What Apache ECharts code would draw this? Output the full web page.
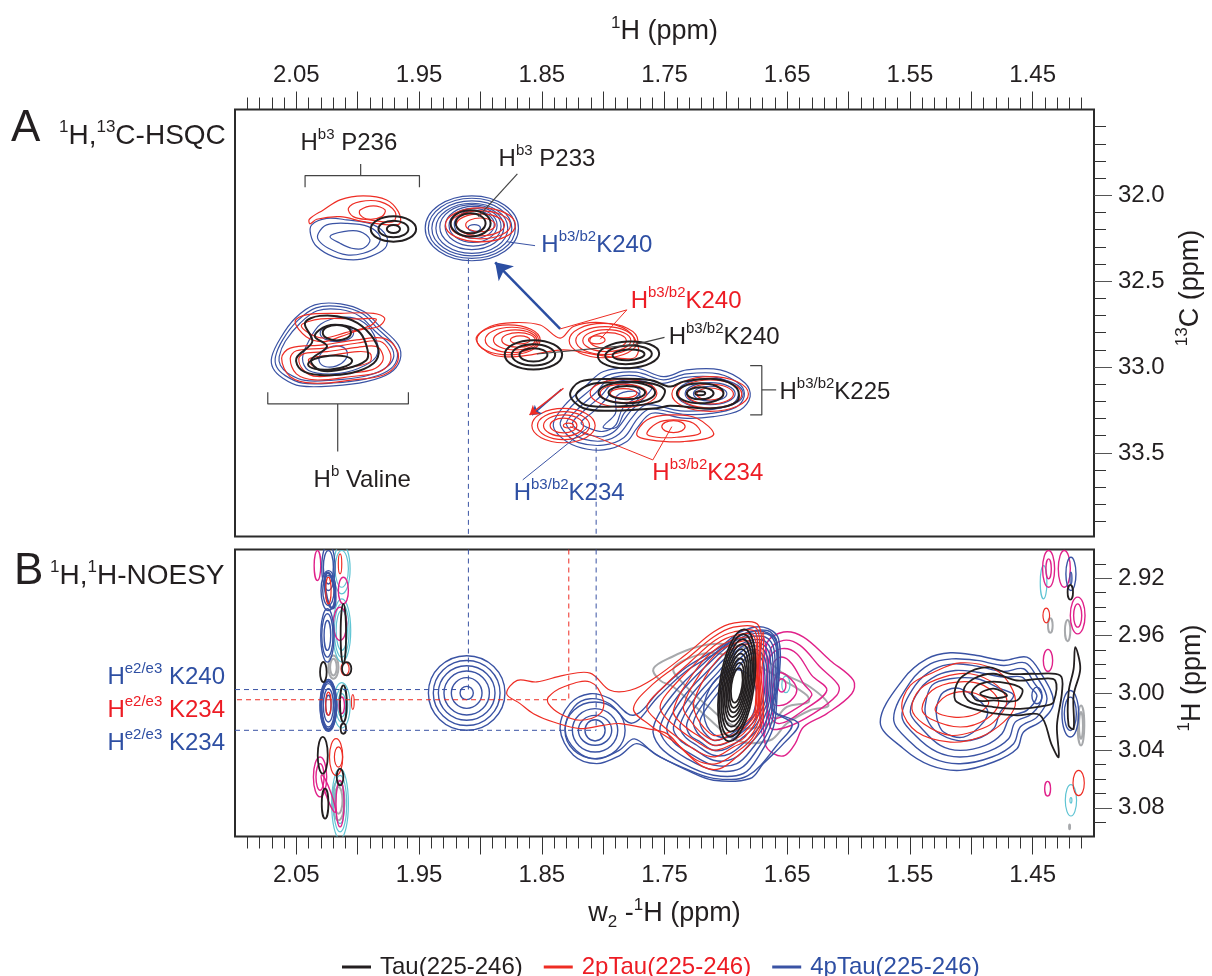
<!DOCTYPE html>
<html><head><meta charset="utf-8">
<style>html,body{margin:0;padding:0;background:#fff}#c{width:1212px;height:976px}</style>
<script src="https://cdn.jsdelivr.net/npm/echarts@6/dist/echarts.min.js"></script>
</head><body><div id="c"></div>
<script>
// ---- axis ticks ----
const xMajorTicks=[2.05,2.00,1.95,1.90,1.85,1.80,1.75,1.70,1.65,1.60,1.55,1.50,1.45];
const xLabelTicks=[2.05,1.95,1.85,1.75,1.65,1.55,1.45];
const xMinorTicks=[2.09,2.08,2.07,2.06,2.04,2.03,2.02,2.01,1.99,1.98,1.97,1.96,1.94,1.93,1.92,1.91,1.89,1.88,1.87,1.86,1.84,1.83,1.82,1.81,1.79,1.78,1.77,1.76,1.74,1.73,1.72,1.71,1.69,1.68,1.67,1.66,1.64,1.63,1.62,1.61,1.59,1.58,1.57,1.56,1.54,1.53,1.52,1.51,1.49,1.48,1.47,1.46,1.44,1.43,1.42,1.41];
const yAMajorTicks=[32.0,32.5,33.0,33.5];
const yAMinorTicks=[31.6,31.7,31.8,31.9,32.1,32.2,32.3,32.4,32.6,32.7,32.8,32.9,33.1,33.2,33.3,33.4,33.6,33.7,33.8,33.9];
const yBMajorTicks=[2.92,2.96,3.00,3.04,3.08];
const yBMinorTicks=[2.91,2.93,2.94,2.95,2.97,2.98,2.99,3.01,3.02,3.03,3.05,3.06,3.07,3.09];

// ---- HSQC (panel A). Peak rows: [1H ppm, 13C ppm, half width 1H, half width 13C, tilt deg] ----
const hsqcBluePeaks=[
[1.907,32.192,.038,.189,0],[1.907,32.192,.0355,.175,0],[1.907,32.192,.0326,.160,0],[1.907,32.192,.0293,.146,0],[1.907,32.185,.0261,.131,0],[1.906,32.18,.0228,.116,0],[1.906,32.175,.0196,.099,0],[1.905,32.17,.0163,.081,0],[1.905,32.19,.005,.02,0],
[2.017,32.803,.0136,.0485,0],[2.02,32.939,.012,.058,-20],
[1.7128,33.155,.027,.087,0],[1.7128,33.155,.0204,.064,0],[1.7128,33.155,.0136,.043,0]];
const hsqcBlueLoops=[
[[2.0375,32.172],[2.0253,32.134],[2.009,32.143],[1.9872,32.172],[1.9764,32.24],[1.9777,32.308],[1.99,32.357],[2.0036,32.376],[2.0198,32.357],[2.0334,32.298],[2.0383,32.23]],
[[2.032,32.221],[2.0253,32.172],[2.009,32.163],[1.9913,32.182],[1.9818,32.24],[1.9845,32.298],[1.9954,32.337],[2.009,32.347],[2.0239,32.308],[2.032,32.26]],
[[2.0226,32.24],[2.0117,32.211],[1.9981,32.211],[1.99,32.26],[1.9954,32.308],[2.0049,32.308],[2.0144,32.279]],
[[2.070,32.939],[2.063,32.832],[2.051,32.716],[2.035,32.638],[2.014,32.632],[1.995,32.677],[1.982,32.764],[1.967,32.871],[1.9655,32.959],[1.974,33.036],[1.993,33.085],[2.020,33.110],[2.047,33.110],[2.061,33.065],[2.069,33.007]],
[[2.067,32.939],[2.061,32.84],[2.049,32.73],[2.034,32.655],[2.014,32.648],[1.996,32.69],[1.984,32.775],[1.970,32.876],[1.968,32.955],[1.976,33.025],[1.994,33.07],[2.020,33.093],[2.045,33.094],[2.059,33.05],[2.066,33.0]],
[[2.064,32.939],[2.059,32.85],[2.047,32.745],[2.033,32.672],[2.014,32.665],[1.998,32.705],[1.986,32.79],[1.973,32.88],[1.971,32.95],[1.979,33.013],[1.995,33.055],[2.020,33.076],[2.043,33.078],[2.057,33.036],[2.063,32.99]],
[[2.045,32.95],[2.04,32.85],[2.03,32.75],[2.012,32.71],[1.995,32.74],[1.985,32.84],[1.985,32.94],[2.0,33.01],[2.02,33.04],[2.04,33.02]],
[[1.8405,33.327],[1.831,33.22],[1.8147,33.114],[1.7997,33.026],[1.7726,33.007],[1.7508,33.056],[1.7318,33.017],[1.7046,33.017],[1.6842,33.094],[1.6802,33.172],[1.6883,33.25],[1.7101,33.289],[1.7345,33.298],[1.7603,33.269],[1.7726,33.357],[1.7807,33.434],[1.7997,33.483],[1.8215,33.463],[1.8364,33.395]],
[[1.835,33.325],[1.826,33.23],[1.81,33.13],[1.797,33.05],[1.773,33.03],[1.751,33.075],[1.732,33.04],[1.706,33.04],[1.688,33.105],[1.685,33.17],[1.692,33.235],[1.712,33.27],[1.735,33.275],[1.762,33.245],[1.772,33.3],[1.783,33.41],[1.80,33.455],[1.82,33.44],[1.83,33.39]],
[[1.83,33.325],[1.82,33.24],[1.806,33.15],[1.795,33.07],[1.774,33.05],[1.752,33.095],[1.733,33.06],[1.708,33.06],[1.692,33.115],[1.69,33.17],[1.696,33.22],[1.714,33.25],[1.737,33.255],[1.765,33.22],[1.776,33.29],[1.787,33.39],[1.80,33.43],[1.816,33.42],[1.825,33.38]],
[[1.825,33.325],[1.815,33.25],[1.802,33.17],[1.792,33.095],[1.775,33.075],[1.76,33.11],[1.768,33.19],[1.778,33.26],[1.79,33.37],[1.80,33.405],[1.812,33.395],[1.82,33.37]],
[[1.818,33.325],[1.808,33.26],[1.798,33.19],[1.79,33.115],[1.778,33.10],[1.77,33.15],[1.784,33.24],[1.79,33.34],[1.80,33.375],[1.81,33.36]],
[[1.80,33.35],[1.79,33.27],[1.789,33.17],[1.775,33.14],[1.77,33.17],[1.783,33.27],[1.789,33.35]]];
const hsqcRedPeaks=[
[1.9,32.172,.0285,.099,0],[1.9,32.172,.0245,.081,0],[1.9,32.172,.0196,.064,0],[1.9,32.172,.012,.04,0],
[1.8771,32.842,.0258,.0873,0],[1.8744,32.842,.0217,.0738,0],[1.8717,32.842,.0177,.058,0],[1.869,32.842,.0136,.0427,0],[1.8676,32.842,.008,.023,0],
[1.7997,32.846,.028,.10,0],[1.7984,32.846,.0239,.0815,0],[1.797,32.846,.0196,.064,0],[1.796,32.846,.0149,.0466,0],[1.8052,32.842,.0068,.023,0],
[1.7834,33.153,.0272,.0815,0],[1.7834,33.153,.019,.054,0],[1.7834,33.153,.0109,.027,0],
[1.7128,33.157,.0312,.101,0],[1.7128,33.157,.0258,.0815,0],[1.7128,33.157,.019,.058,0],[1.7128,33.157,.0109,.035,0],
[1.8323,33.341,.0258,.10,0],[1.8323,33.341,.0212,.0815,0],[1.8323,33.341,.0163,.062,0],[1.8323,33.341,.0109,.043,0],[1.8283,33.341,.0041,.014,0],
[1.7427,33.347,.0095,.035,0]];
const hsqcRedLoops=[
[[2.0394,32.139],[2.028,32.085],[2.0144,32.026],[1.9954,32.003],[1.9764,32.027],[1.9669,32.095],[1.9655,32.163],[1.9737,32.172],[1.9954,32.153],[2.0144,32.124],[2.0334,32.139],[2.0389,32.166]],
[[2.0076,32.075],[1.998,32.037],[1.9818,32.037],[1.9696,32.095],[1.971,32.153],[1.99,32.143],[2.0036,32.124]],
[[1.998,32.085],[1.9872,32.061],[1.9777,32.085],[1.9804,32.124],[1.9913,32.139],[1.998,32.114]],
[[2.051,32.735],[2.042,32.696],[2.014,32.687],[1.987,32.687],[1.978,32.716],[1.983,32.764],[1.998,32.784],[2.014,32.823],[2.028,32.852],[2.042,32.823]],
[[2.046,32.76],[2.03,32.72],[2.0,32.72],[1.985,32.72],[1.99,32.76],[2.01,32.8],[2.03,32.83]],
[[2.062,32.949],[2.055,32.89],[2.028,32.871],[2.001,32.842],[1.979,32.832],[1.968,32.9],[1.968,32.978],[1.979,33.046],[2.004,33.075],[2.036,33.094],[2.055,33.056]],
[[2.055,32.95],[2.05,32.905],[2.027,32.89],[2.0,32.86],[1.982,32.85],[1.974,32.91],[1.974,32.975],[1.983,33.03],[2.005,33.055],[2.035,33.075],[2.05,33.04]],
[[2.048,32.95],[2.043,32.92],[2.025,32.91],[2.0,32.885],[1.985,32.88],[1.98,32.92],[1.98,32.97],[1.988,33.015],[2.006,33.035],[2.033,33.055],[2.044,33.02]],
[[2.04,32.955],[2.02,32.93],[2.0,32.91],[1.99,32.92],[1.99,32.97],[2.005,33.0],[2.03,33.02]],
[[1.9035,32.838],[1.8921,32.764],[1.8731,32.741],[1.8513,32.755],[1.835,32.832],[1.8242,32.764],[1.8024,32.741],[1.7807,32.784],[1.7712,32.89],[1.7753,32.949],[1.7997,32.935],[1.8323,32.9],[1.8649,32.935],[1.8894,32.93]],
[[1.7726,33.395],[1.7644,33.308],[1.7454,33.279],[1.7236,33.298],[1.7101,33.395],[1.7345,33.434],[1.7617,33.424]],
[[1.7644,33.389],[1.7562,33.327],[1.7427,33.308],[1.7264,33.327],[1.721,33.386],[1.74,33.409],[1.7562,33.409]]];
const hsqcBlackPeaks=[
[1.908,32.163,.0163,.076,0],[1.908,32.163,.0122,.058,0],
[1.9709,32.196,.0185,.074,0],[1.9709,32.196,.0122,.0485,0],[1.9709,32.196,.0054,.023,0],
[2.017,32.8,.0115,.045,0],[2.0225,32.974,.018,.04,-5],
[1.8568,32.929,.0234,.0854,0],[1.8568,32.929,.0177,.062,0],[1.8568,32.929,.0114,.039,0],
[1.7793,32.929,.025,.0776,-3],[1.7793,32.929,.019,.054,-3],[1.7793,32.929,.013,.031,-3],
[1.7807,33.149,.0231,.062,0],[1.7807,33.149,.0149,.039,0],
[1.7209,33.153,.019,.058,0],[1.7209,33.153,.0109,.035,0],[1.7209,33.153,.0041,.012,0]];
const hsqcBlackLoops=[
[[2.05,32.949],[2.037,32.852],[2.043,32.745],[2.031,32.702],[2.009,32.716],[1.993,32.784],[1.983,32.9],[1.987,32.978],[2.006,33.036],[2.031,33.046],[2.046,33.017]],
[[2.038,32.96],[2.025,32.88],[2.035,32.82],[2.025,32.76],[2.01,32.76],[1.998,32.8],[1.992,32.9],[1.993,32.96],[2.01,33.01],[2.03,33.02]],
[[1.8269,33.162],[1.8187,33.085],[1.7943,33.069],[1.7617,33.075],[1.7454,33.114],[1.7345,33.085],[1.7073,33.071],[1.691,33.124],[1.691,33.201],[1.7101,33.24],[1.7454,33.226],[1.7562,33.24],[1.7916,33.254],[1.816,33.24]],
[[1.822,33.16],[1.81,33.10],[1.79,33.09],[1.765,33.09],[1.75,33.13],[1.755,33.2],[1.79,33.23],[1.815,33.22]]];

// ---- NOESY (panel B). Same row layout, 1H ppm on both axes ----
const noesyBluePeaks=[
[1.9112,3.0,.0312,.026,0],[1.9112,3.0,.0272,.0227,0],[1.9112,3.0,.0231,.019,0],[1.9112,3.0,.0185,.0153,0],[1.9112,3.0,.0125,.0107,0],[1.9112,3.0,.0054,.0046,0],
[1.8066,3.026,.0245,.0197,0],[1.8066,3.026,.0185,.0151,0],[1.8066,3.026,.0136,.0104,0],[1.8066,3.026,.0082,.0074,0],
[1.6965,3.0074,.0204,.0244,20],
[1.4465,3.0017,.0041,.0058,0],[1.4193,3.0145,.0068,.0162,0],[1.4193,3.0145,.0049,.0116,0],[1.4188,2.917,.0041,.0116,0],[1.4188,2.92,.0008,.0042,0],
[2.0239,2.9124,.0054,.0162,0],[2.0239,2.9124,.0041,.0116,0],[2.0239,2.9286,.006,.0139,0],[2.0239,2.9286,.0046,.0104,0],[2.0247,2.9599,.0054,.0186,0],[2.0247,2.9599,.0046,.0151,0],[2.0247,2.9599,.0027,.0104,0],
[2.0239,3.0086,.0068,.0181,0],[2.0239,3.0086,.0054,.0151,0],[2.0239,3.0086,.0041,.0116,0],[2.0239,3.0086,.0022,.007,0]];
const noesyBlueHeavyPeaks=[[2.0225,2.9286,.0038,.0125,-8],[2.0239,3.0086,.0062,.0168,0]];
const noesyBlueLoops=[
[[1.8351,3.0248],[1.8269,3.0074],[1.8106,3.0005],[1.7943,3.004],[1.7753,3.0155],[1.7536,2.9981],[1.7318,2.9819],[1.7047,2.968],[1.6884,2.9575],[1.6694,2.9541],[1.6571,2.9622],[1.6571,2.9935],[1.6612,3.012],[1.6408,3.0213],[1.653,3.0353],[1.6694,3.0492],[1.6802,3.0596],[1.7101,3.0608],[1.7318,3.0538],[1.7536,3.0445],[1.7726,3.0353],[1.7862,3.0434],[1.8052,3.0492],[1.8242,3.0434]],
[[1.831,3.0255],[1.8235,3.0095],[1.8106,3.004],[1.7948,3.0075],[1.7765,3.021],[1.755,3.0025],[1.7335,2.9855],[1.707,2.9715],[1.688,2.96],[1.67,2.957],[1.659,2.964],[1.659,2.995],[1.662,3.012],[1.646,3.0215],[1.656,3.034],[1.682,3.0575],[1.71,3.0595],[1.735,3.052],[1.757,3.043],[1.7745,3.032],[1.787,3.04],[1.805,3.046],[1.822,3.04]],
[[1.759,3.0237],[1.7427,3.0005],[1.7183,2.9796],[1.691,2.961],[1.6666,2.9564],[1.6579,2.9657],[1.6585,3.0051],[1.6612,3.0237],[1.672,3.0422],[1.6857,3.0561],[1.7101,3.0573],[1.7346,3.0492],[1.7536,3.0376]],
[[1.7536,3.0237],[1.7386,3.0016],[1.7155,2.9807],[1.6897,2.9622],[1.6666,2.9587],[1.659,2.968],[1.6596,3.0051],[1.6639,3.0237],[1.6748,3.0399],[1.6884,3.0527],[1.7101,3.0538],[1.7318,3.0457],[1.7481,3.0353]],
[[1.7481,3.0237],[1.7346,3.0028],[1.7128,2.983],[1.6884,2.9633],[1.668,2.961],[1.6606,2.9703],[1.6612,3.0051],[1.6666,3.0237],[1.6775,3.0376],[1.6911,3.0492],[1.7101,3.0503],[1.7291,3.0422],[1.7427,3.0341]],
[[1.7427,3.0237],[1.7305,3.004],[1.7101,2.9842],[1.687,2.9657],[1.6694,2.9633],[1.6623,2.9726],[1.6628,3.0051],[1.6694,3.0237],[1.6802,3.0353],[1.6938,3.0457],[1.7101,3.0469],[1.7264,3.0387],[1.7373,3.0329]],
[[1.7373,3.0225],[1.7264,3.0051],[1.7074,2.9865],[1.6857,2.9668],[1.6707,2.9657],[1.6639,2.9749],[1.6645,3.0051],[1.672,3.0225],[1.683,3.0329],[1.6965,3.0422],[1.7101,3.0434],[1.7237,3.0364],[1.7332,3.0306]],
[[1.7318,3.0213],[1.7223,3.0063],[1.7047,2.9877],[1.6843,2.9691],[1.672,2.968],[1.6655,2.9773],[1.666,3.0051],[1.6748,3.0213],[1.6857,3.0306],[1.6992,3.0387],[1.7101,3.0399],[1.721,3.0341],[1.7291,3.0295]],
[[1.7264,3.0202],[1.7183,3.0074],[1.702,2.99],[1.683,2.9715],[1.6734,2.9703],[1.6672,2.9796],[1.6677,3.0051],[1.6775,3.0202],[1.6884,3.0283],[1.7006,3.0353],[1.7101,3.0364],[1.7183,3.0318],[1.7237,3.0271]],
[[1.721,3.019],[1.7142,3.0086],[1.6992,2.9923],[1.6816,2.9738],[1.6748,2.9726],[1.6688,2.9819],[1.6699,3.0051],[1.6802,3.019],[1.6911,3.026],[1.702,3.0318],[1.7101,3.0329],[1.7155,3.0295],[1.7196,3.0248]],
[[1.5742,3.0203],[1.5552,2.9901],[1.5362,2.9762],[1.5171,2.972],[1.4954,2.9739],[1.4737,2.9773],[1.4547,2.975],[1.4438,2.9855],[1.4329,3.0063],[1.4424,3.0191],[1.4574,3.0272],[1.4628,3.0388],[1.4818,3.0481],[1.509,3.0539],[1.5334,3.0504],[1.5552,3.0388]],
[[1.5633,3.0179],[1.5497,2.9924],[1.5334,2.9797],[1.5158,2.9762],[1.4954,2.9773],[1.4737,2.9808],[1.456,2.979],[1.4465,2.9889],[1.4383,3.004],[1.4465,3.0168],[1.4601,3.0237],[1.4655,3.0353],[1.4832,3.0446],[1.509,3.0493],[1.5307,3.0458],[1.5497,3.0342]],
[[1.5565,3.0156],[1.5457,2.9947],[1.5307,2.9836],[1.5144,2.9797],[1.4954,2.9813],[1.4737,2.985],[1.4574,2.9831],[1.4492,2.9924],[1.4424,3.0029],[1.4506,3.0145],[1.4642,3.0203],[1.4696,3.0319],[1.4859,3.0407],[1.509,3.0446],[1.528,3.0411],[1.5457,3.0295]],
[[1.5497,3.0133],[1.5416,2.9971],[1.528,2.9878],[1.513,2.9843],[1.4954,2.9855],[1.4737,2.9889],[1.4587,2.9889],[1.4519,2.9959],[1.4465,3.0022],[1.4547,3.0121],[1.4682,3.0168],[1.475,3.0284],[1.4886,3.0365],[1.509,3.04],[1.5253,3.0365],[1.5402,3.0249]],
[[1.5375,3.0087],[1.5321,2.9947],[1.5171,2.9901],[1.4954,2.9901],[1.4764,2.997],[1.4655,3.0017],[1.4764,3.0133],[1.4818,3.0249],[1.4954,3.0319],[1.5117,3.033],[1.528,3.0272],[1.5362,3.0179]],
[[1.528,3.0087],[1.5226,2.9994],[1.509,2.997],[1.4873,3.011],[1.49,3.0203],[1.5063,3.0307],[1.5226,3.0272],[1.528,3.0179]]];
const noesyRedPeaks=[
[1.6726,2.9875,.0016,.03,5],
[2.0239,3.0075,.0022,.0081,0],[2.0239,2.9286,.0022,.0093,0],[2.0176,3.0446,.0054,.0128,0],[2.0157,3.0446,.0033,.007,0],[2.0144,2.91,.0014,.007,0],[2.004,3.0063,.0011,.0051,0],[2.0103,2.9831,.0033,.0046,0],
[1.4389,2.946,.0027,.0051,0],[1.4125,3.0627,.0046,.0088,0]];
const noesyRedLoops=[
[[1.8786,3.0005],[1.87,2.9912],[1.8541,2.9923],[1.8324,2.9877],[1.8106,2.9861],[1.7943,2.9981],[1.778,2.9981],[1.759,2.99],[1.7318,2.9726],[1.7101,2.9575],[1.6938,2.9513],[1.6734,2.9529],[1.672,2.9819],[1.6694,3.0167],[1.6775,3.0329],[1.6911,3.0445],[1.7047,3.0527],[1.7183,3.0515],[1.7346,3.0399],[1.7481,3.0283],[1.7644,3.0248],[1.7862,3.0213],[1.7998,3.0225],[1.8188,3.0248],[1.8405,3.0202],[1.8568,3.0144],[1.8677,3.0074]],
[[1.8446,3.0028],[1.8324,2.9958],[1.8106,2.9923],[1.7998,3.0051],[1.8025,3.0144],[1.8188,3.019],[1.8351,3.0144],[1.8446,3.0074]],
[[1.7753,3.0109],[1.759,2.9935],[1.7318,2.9761],[1.7101,2.961],[1.6938,2.9541],[1.6748,2.9552],[1.6734,2.9819],[1.6707,3.0167],[1.6788,3.0318],[1.6911,3.0411],[1.7074,3.0492],[1.7237,3.0469],[1.74,3.0353],[1.7617,3.0225]],
[[1.7644,3.0097],[1.7509,2.9958],[1.7291,2.9784],[1.7087,2.9633],[1.6938,2.9575],[1.6761,2.9575],[1.6748,2.9819],[1.672,3.0155],[1.6816,3.0318],[1.6938,3.0376],[1.7087,3.0445],[1.7223,3.0411],[1.74,3.0306],[1.7549,3.0202]],
[[1.7536,3.0097],[1.7481,3.0005],[1.7264,2.9807],[1.7074,2.9657],[1.6924,2.9599],[1.6775,2.9599],[1.6742,2.9819],[1.6734,3.0144],[1.6843,3.0306],[1.6965,3.0364],[1.7101,3.0399],[1.721,3.0353],[1.7373,3.026],[1.7495,3.0167]],
[[1.7427,3.0121],[1.7237,2.983],[1.706,2.968],[1.6911,2.9622],[1.6788,2.9622],[1.6748,2.9842],[1.6742,3.0132],[1.6857,3.0283],[1.6979,3.0341],[1.7101,3.0364],[1.721,3.0306],[1.7346,3.0225]],
[[1.7346,3.0097],[1.721,2.9865],[1.7047,2.9703],[1.6897,2.9645],[1.6802,2.9645],[1.6753,2.9865],[1.6748,3.0121],[1.687,3.026],[1.6992,3.0306],[1.7101,3.0329],[1.721,3.0271],[1.7291,3.019]],
[[1.7264,3.0074],[1.7169,2.9889],[1.7033,2.9738],[1.6884,2.9668],[1.6816,2.9668],[1.6761,2.9889],[1.6761,3.0121],[1.6884,3.0237],[1.7006,3.0283],[1.7101,3.0295],[1.7183,3.0237],[1.7237,3.0167]],
[[1.5565,3.011],[1.5497,2.9947],[1.5307,2.9855],[1.509,2.979],[1.4818,2.9831],[1.4682,2.9947],[1.4642,3.0087],[1.4737,3.0203],[1.4927,3.0307],[1.5171,3.0342],[1.5443,3.0272]],
[[1.5484,3.011],[1.5416,2.9971],[1.5226,2.9889],[1.5008,2.9866],[1.4791,2.9947],[1.471,3.0063],[1.4818,3.0203],[1.4954,3.0261],[1.5171,3.0295],[1.5389,3.0214]],
[[1.5402,3.011],[1.5321,2.9982],[1.5117,2.9924],[1.49,2.9947],[1.4777,3.0063],[1.4873,3.0179],[1.509,3.0237],[1.5335,3.0179]],
[[1.5294,3.0121],[1.5199,3.0017],[1.5008,2.9994],[1.4859,3.0063],[1.4954,3.0145],[1.5144,3.0168]]];
const noesyBlackPeaks=[
[1.6911,2.9947,.014,.0394,8],[1.6911,2.9947,.0128,.036,8],[1.6911,2.9947,.0115,.0325,8],[1.6911,2.9947,.0103,.029,8],[1.6911,2.9947,.009,.0255,8],[1.6911,2.9947,.0078,.0223,8],[1.6911,2.9947,.0066,.019,8],[1.6911,2.9947,.0054,.0158,8],[1.6911,2.9947,.0044,.0121,8],
[1.4193,2.9298,.0022,.0051,0],
[2.028,2.9854,.0027,.007,0],[2.009,2.9831,.0038,.0046,0],[2.0117,2.9588,.0022,.0209,0],[2.0117,3.0075,.0027,.0128,0],[2.0117,3.0249,.0022,.0035,0],[2.0285,3.0434,.0041,.0128,0],[2.0266,3.0771,.0027,.0104,0],[2.0144,3.0585,.0027,.0058,0]];
const noesyBlackLoops=[
[[1.5131,2.997],[1.5063,2.9878],[1.4873,2.982],[1.4682,2.9866],[1.4492,2.9866],[1.4275,2.9878],[1.4261,2.9994],[1.4302,3.0226],[1.4288,3.0446],[1.4343,3.0365],[1.4438,3.0156],[1.4628,3.0156],[1.4873,3.0133],[1.5117,3.0063]],
[[1.5063,2.9982],[1.4981,2.9901],[1.4818,2.9866],[1.4628,2.9913],[1.4438,2.9901],[1.4316,2.9913],[1.4329,3.0063],[1.4383,3.0087],[1.4601,3.011],[1.4818,3.0098],[1.5008,3.0063]],
[[1.4995,2.9994],[1.4927,2.9936],[1.4764,2.9924],[1.4587,2.9971],[1.4628,3.0052],[1.4818,3.0052],[1.4954,3.0052]],
[[1.4927,3.0005],[1.4818,2.997],[1.4709,3.0017],[1.4818,3.0036]],
[[1.4153,2.9681],[1.4112,2.9831],[1.4166,3.0017],[1.4166,3.0249],[1.4207,3.0226],[1.4207,2.9994],[1.4166,2.9831]]];
const noesyMagentaPeaks=[
[1.6694,2.9958,.0035,.034,0],[1.6544,2.9947,.0033,.0046,0],
[1.437,2.9135,.0049,.0128,0],[1.437,2.9135,.0022,.007,0],[1.4242,2.9135,.0049,.0128,0],[1.4133,2.946,.006,.0128,0],[1.4133,2.946,.0033,.0081,0],[1.4375,2.9773,.0038,.0077,0],[1.4378,3.0667,.0024,.0051,0],
[2.0328,2.9112,.0027,.0104,0],[2.0307,3.0585,.0054,.0139,0],[2.0307,3.0585,.0033,.0093,0],[2.0144,2.9518,.0054,.0116,0],[2.0117,2.9286,.0041,.0093,0],[2.0144,3.0771,.0033,.0162,0],[2.0239,3.0701,.0022,.0139,-20],[2.013,3.0086,.0022,.0058,0]];
const noesyMagentaLoops=[
[[1.6666,2.9657],[1.653,2.9575],[1.6367,2.961],[1.615,2.9773],[1.596,2.9912],[1.5974,3.0005],[1.6177,3.0144],[1.6367,3.0237],[1.6435,3.0353],[1.6517,3.0434],[1.6612,3.0422],[1.668,3.0353],[1.6694,3.0051]],
[[1.6639,2.9703],[1.653,2.9633],[1.6395,2.9668],[1.6232,2.9819],[1.6082,2.9947],[1.6096,3.0016],[1.6286,3.0144],[1.6503,3.0237],[1.6639,3.0237]],
[[1.6639,2.9749],[1.6544,2.9691],[1.6422,2.9726],[1.63,2.9877],[1.6177,2.9981],[1.6367,3.012],[1.6571,3.0213],[1.6666,3.0097]],
[[1.6612,2.9796],[1.6544,2.9749],[1.6462,2.9796],[1.6367,2.9935],[1.63,3.0016],[1.6449,3.012],[1.6612,3.0167]],
[[1.6585,2.9865],[1.6503,2.9877],[1.6422,2.9981],[1.6503,3.0074],[1.6612,3.0074]]];
const noesyCyanPeaks=[
[1.6511,2.994,.0033,.0058,0],
[1.4411,2.9228,.0027,.0116,0],[1.4188,3.0748,.0046,.0109,0],[1.4188,3.0748,.0008,.0019,0],
[2.013,2.9135,.0068,.0174,0],[2.013,2.9135,.0054,.0128,0],[2.013,2.9564,.0073,.022,0],[2.013,2.9564,.006,.0186,0],[2.013,2.9564,.0046,.0139,0],
[2.013,3.0086,.0068,.0158,0],[2.013,3.0086,.0049,.0116,0],[2.013,3.0086,.0033,.0081,0],
[2.0144,3.0771,.0068,.0244,0],[2.0144,3.0771,.0054,.0197,0],[2.0144,3.0771,.0038,.0139,0]];
const noesyGreyPeaks=[
[1.4356,2.953,.0019,.0051,0],[1.4215,2.9565,.0022,.0074,0],[1.4106,3.0226,.0027,.0139,0],[1.4106,3.0226,.0016,.0093,0],[1.4199,3.0933,.0004,.0016,0],
[2.0198,2.982,.0041,.0081,0],[2.0198,2.982,.0027,.0058,0],[2.0157,3.0748,.0049,.0139,0],[2.0157,3.0748,.0033,.0093,0]];
const noesyGreyLoops=[
[[1.759,2.983],[1.7441,2.9749],[1.7237,2.968],[1.7047,2.9657],[1.6775,2.9703],[1.653,2.9865],[1.6313,2.9958],[1.6164,3.0086],[1.6313,3.012],[1.6503,3.0213],[1.6639,3.0329],[1.6911,3.0329],[1.7183,3.0144],[1.7427,2.9958],[1.7536,2.9912]],
[[1.7427,2.983],[1.7237,2.9738],[1.7047,2.9726],[1.6775,2.9796],[1.653,2.9912],[1.634,3.0016],[1.6327,3.0063],[1.6503,3.0097],[1.6639,3.0213],[1.6911,3.0237],[1.7155,3.0086],[1.7346,2.9935]]];

// ---- guide lines (ppm) ----
const guideX240=1.9098, guideX234=1.8057, guideXRed=1.828;
const guideYB240=2.9976, guideYRed=3.0047, guideYB234=3.026;
const hsqcBlueGuides=[[[guideX240,32.37],[guideX240,33.98]],[[guideX234,33.47],[guideX234,33.98]]];
const noesyBlueGuides=[[[guideX240,2.90],[guideX240,guideYB240]],[[guideX234,2.90],[guideX234,guideYB234]],[[2.10,guideYB240],[guideX240,guideYB240]],[[2.10,guideYB234],[guideX234,guideYB234]]];
const noesyRedGuides=[[[guideXRed,2.90],[guideXRed,guideYRed],[2.10,guideYRed]]];
const darkLeaders=[
[[2.0429,31.953],[2.0429,31.885],[1.9497,31.885],[1.9497,31.953]],[[1.9976,31.885],[1.9976,31.817]],
[[1.8699,31.875],[1.9017,32.124]],
[[1.75,32.827],[1.7753,32.871],[1.854,32.924]],
[[1.6802,32.992],[1.6707,32.992],[1.6707,33.279],[1.6802,33.279]],[[1.6707,33.133],[1.659,33.133]],
[[2.0733,33.147],[2.0733,33.215],[1.9587,33.215],[1.9587,33.147]],[[2.0163,33.215],[2.0163,33.492]]];
const redLeaders=[
[[1.835,32.778],[1.7807,32.667],[1.8024,32.838]],
[[1.744,33.347],[1.7595,33.541],[1.8269,33.347]]];
const blueLeaders=[[[1.8555,32.293],[1.8786,32.27]],[[1.8655,33.657],[1.8133,33.357]]];
const arrowBig=[[1.835,32.778],[1.888,32.39]];
const arrowSmallBlue=[[1.834,33.13],[1.858,33.28]];
const arrowSmallRed=[[1.8323,33.1235],[1.86,33.279]];

// ---- annotation text ----
const hsqcLabels=[
[2.047,31.695,'#231f20','H','b3',' P236'],[1.8856,31.789,'#231f20','H','b3',' P233'],
[1.8508,32.289,'#2e4fa3','H','b3/b2','K240'],[1.778,32.62,'#ed1c24','H','b3/b2','K240'],
[1.747,32.825,'#231f20','H','b3/b2','K240'],[1.6567,33.145,'#231f20','H','b3/b2','K225'],
[1.7603,33.617,'#ed1c24','H','b3/b2','K234'],[1.8733,33.733,'#2e4fa3','H','b3/b2','K234'],
[2.0364,33.658,'#231f20','H','b',' Valine']];
const noesySideLabels=[['#2e4fa3','K240'],['#ed1c24','K234'],['#2e4fa3','K234']];
const legendNames=['Tau(225-246)','2pTau(225-246)','4pTau(225-246)'];

const BLACK='#231f20',RED='#ee2d24',BLUE='#3a53a4',MAG='#e0218a',CYAN='#5fc4d3',GREY='#a7a9ac',TXT='#231f20',DARK='#444';
const supRich={m:{fontSize:24,lineHeight:32,fontFamily:'Liberation Sans'},s:{fontSize:15,lineHeight:15,verticalAlign:'top',fontFamily:'Liberation Sans'},b:{fontSize:15,lineHeight:15,verticalAlign:'bottom',fontFamily:'Liberation Sans'}};
const nameRich={m:{fontSize:27,lineHeight:34,fontFamily:'Liberation Sans'},s:{fontSize:17,lineHeight:17,verticalAlign:'top',fontFamily:'Liberation Sans'},b:{fontSize:17,lineHeight:17,verticalAlign:'bottom',fontFamily:'Liberation Sans'}};

function contours(name,color,width,panel,peaks,loops){
  const rows=[];(peaks||[]).forEach((p,i)=>rows.push([0,i]));(loops||[]).forEach((l,i)=>rows.push([1,i]));
  return {type:'custom',name,color,itemStyle:{color},xAxisIndex:panel?2:0,yAxisIndex:panel?2:0,clip:true,silent:true,data:rows,encode:{},
    renderItem(params,api){
      const kind=api.value(0),i=api.value(1);
      const st={fill:'none',stroke:color,lineWidth:width};
      if(kind===0){const p=peaks[i];const c=api.coord([p[0],p[1]]);const s=api.size([p[2],p[3]],[p[0],p[1]]);
        return {type:'ellipse',x:c[0],y:c[1],rotation:-p[4]*Math.PI/180,shape:{cx:0,cy:0,rx:Math.abs(s[0]),ry:Math.abs(s[1])},style:st};}
      return {type:'polygon',shape:{points:loops[i].map(q=>api.coord(q)),smooth:0.35},style:st};
    }};
}
function polyline(pts,color,width,panel,dash,z){
  return {type:'line',name:'guide',xAxisIndex:panel?2:0,yAxisIndex:panel?2:0,data:pts,symbol:'none',silent:true,z:z||5,animation:false,
    lineStyle:{color,width,type:dash?[5,4]:'solid'}};
}
function arrow(seg,color,width,size){
  return {type:'line',name:'arrow',xAxisIndex:0,yAxisIndex:0,data:[],silent:true,z:6,
    markLine:{silent:true,animation:false,symbol:['none','arrow'],symbolSize:size,label:{show:false},lineStyle:{color,width,type:'solid'},
      data:[[{coord:seg[0]},{coord:seg[1]}]]}};
}
const series=[
 contours(legendNames[2],BLUE,1.2,0,hsqcBluePeaks,hsqcBlueLoops),
 contours(legendNames[1],RED,1.2,0,hsqcRedPeaks,hsqcRedLoops),
 contours(legendNames[0],BLACK,2,0,hsqcBlackPeaks,hsqcBlackLoops),
 contours('grey',GREY,2,1,noesyGreyPeaks,noesyGreyLoops),
 contours('cyan',CYAN,1.2,1,noesyCyanPeaks,[]),
 contours('magenta',MAG,1.4,1,noesyMagentaPeaks,noesyMagentaLoops),
 contours(legendNames[2],BLUE,1.4,1,noesyBluePeaks,noesyBlueLoops),
 contours(legendNames[2],BLUE,2.6,1,noesyBlueHeavyPeaks,[]),
 contours(legendNames[1],RED,1.2,1,noesyRedPeaks,noesyRedLoops),
 contours(legendNames[0],BLACK,1.8,1,noesyBlackPeaks,noesyBlackLoops)
];
hsqcBlueGuides.forEach(g=>series.push(polyline(g,BLUE,1,0,true)));
noesyBlueGuides.forEach(g=>series.push(polyline(g,BLUE,1,1,true)));
noesyRedGuides.forEach(g=>series.push(polyline(g,RED,1,1,true)));
darkLeaders.forEach(g=>series.push(polyline(g,DARK,1.2,0,false)));
redLeaders.forEach(g=>series.push(polyline(g,RED,1,0,false)));
blueLeaders.forEach(g=>series.push(polyline(g,BLUE,1,0,false)));
series.push(arrow(arrowBig,'#2b4ea2',2.5,16),arrow(arrowSmallBlue,'#2b4ea2',1.5,9),arrow(arrowSmallRed,RED,1.5,9));
series.push({type:'scatter',name:'labels',xAxisIndex:0,yAxisIndex:0,symbolSize:1,silent:true,z:8,itemStyle:{color:'rgba(0,0,0,0)',opacity:1},
  data:hsqcLabels.map(l=>({value:[l[0],l[1]],label:{show:true,position:'right',distance:0,color:l[2],
    formatter:`{m|${l[3]}}{s|${l[4]}}{m|${l[5]}}`,rich:supRich}}))});

function xAxisPair(grid,pos,name){
  const common={type:'value',gridIndex:grid,position:pos,inverse:true,min:1.4,max:2.1,splitLine:{show:false},axisLine:{show:false}};
  return [
   Object.assign({},common,{name,nameLocation:'middle',nameGap:pos==='top'?61:60,nameTextStyle:{color:TXT,rich:nameRich},
     axisTick:{show:true,length:18,customValues:xMajorTicks,lineStyle:{color:'#333',width:1}},
     axisLabel:{show:true,customValues:xLabelTicks,formatter:v=>v.toFixed(2),color:TXT,fontSize:24,fontFamily:'Liberation Sans',margin:pos==='top'?22:27}}),
   Object.assign({},common,{axisTick:{show:true,length:12,customValues:xMinorTicks,lineStyle:{color:'#333',width:1}},axisLabel:{show:false}})
  ];
}
function yAxisPair(grid,min,max,major,minor,digits){
  const common={type:'value',gridIndex:grid,position:'right',inverse:true,min,max,splitLine:{show:false},axisLine:{show:false}};
  return [
   Object.assign({},common,{axisTick:{show:true,length:18,customValues:major,lineStyle:{color:'#555',width:1}},
     axisLabel:{show:true,customValues:major,formatter:v=>v.toFixed(digits),color:TXT,fontSize:24,fontFamily:'Liberation Sans',margin:24}}),
   Object.assign({},common,{axisTick:{show:true,length:12,customValues:minor,lineStyle:{color:'#333',width:1}},axisLabel:{show:false}})
  ];
}
function txt(x,y,text,opt){
  return Object.assign({type:'text',x,y,silent:true},opt&&opt.rot?{rotation:opt.rot}:{},{style:{text,rich:(opt&&opt.rich)||supRich,fill:(opt&&opt.fill)||TXT,
    font:((opt&&opt.size)||24)+'px "Liberation Sans"',align:(opt&&opt.align)||'left',verticalAlign:'middle'}});
}
const titleRich={t:{fontSize:28,lineHeight:34,fontFamily:'Liberation Sans'},u:{fontSize:17,lineHeight:17,verticalAlign:'top',fontFamily:'Liberation Sans'}};
function titleTxt(x,y,text){return {type:'text',x,y,silent:true,style:{text,rich:titleRich,fill:TXT,font:'28px "Liberation Sans"',verticalAlign:'middle'}};}

const graphicEls=[
 txt(11,129,'A',{size:44}),txt(14,572,'B',{size:44}),
 titleTxt(59,136,'{u|1}{t|H,}{u|13}{t|C-HSQC}'),
 titleTxt(50,576,'{u|1}{t|H,}{u|1}{t|H-NOESY}'),
 txt(1191,288,'{s|13}{m|C (ppm)}',{rot:Math.PI/2,align:'center',rich:nameRich}),
 txt(1193,678,'{s|1}{m|H (ppm)}',{rot:Math.PI/2,align:'center',rich:nameRich}),
];
[677,710,743].forEach((y,i)=>{const l=noesySideLabels[i];graphicEls.push(txt(225,y,`{m|H}{s|e2/e3}{m| ${l[1]}}`,{fill:l[0],align:'right'}));});

const option={
 animation:false,backgroundColor:'#fff',
 grid:[{left:235,top:109.5,width:859,height:427,show:true,borderColor:'#2b2b2b',borderWidth:2,backgroundColor:'transparent'},
       {left:235,top:549.5,width:859,height:287,show:true,borderColor:'#2b2b2b',borderWidth:2,backgroundColor:'transparent'}],
 xAxis:[...xAxisPair(0,'top','{s|1}{m|H (ppm)}'),...xAxisPair(1,'bottom','{m|w}{b|2}{m| -}{s|1}{m|H (ppm)}')],
 yAxis:[...yAxisPair(0,31.5,33.987,yAMajorTicks,yAMinorTicks,1),...yAxisPair(1,2.90,3.10,yBMajorTicks,yBMinorTicks,2)],
 legend:{left:337,top:950,itemWidth:29,itemHeight:3,itemGap:21,icon:'rect',selectedMode:false,
   textStyle:{fontSize:24,fontFamily:'Liberation Sans',padding:[0,0,0,4]},
   data:[{name:legendNames[0],textStyle:{color:BLACK}},{name:legendNames[1],textStyle:{color:'#ed1c24'}},{name:legendNames[2],textStyle:{color:'#2e4fa3'}}]},
 graphic:graphicEls,
 series
};
echarts.init(document.getElementById('c'),null,{renderer:'canvas'}).setOption(option);
</script></body></html>
